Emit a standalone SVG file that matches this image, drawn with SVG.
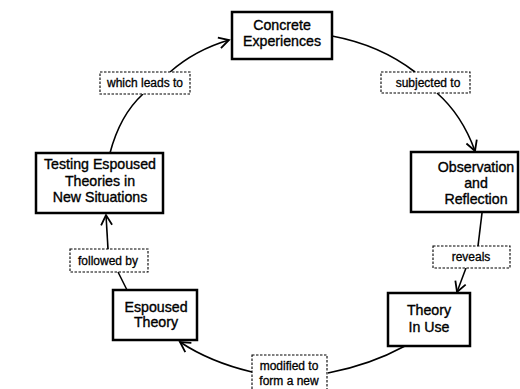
<svg xmlns="http://www.w3.org/2000/svg" width="520" height="389" viewBox="0 0 520 389">
<defs>
<style>
.node{fill:#fff;stroke:#000;stroke-width:2.5}
.lbl{fill:#fff;stroke:#000;stroke-width:1.1;stroke-dasharray:2.5 1.5}
.nt{font-family:"Liberation Sans",Arial,sans-serif;font-size:14.2px;fill:#000;stroke:#000;stroke-width:0.35;text-anchor:middle}
.lt{font-family:"Liberation Sans",Arial,sans-serif;font-size:12px;fill:#000;stroke:#000;stroke-width:0.3;text-anchor:middle}
.c{fill:none;stroke:#000;stroke-width:1.6}
</style>
<marker id="ah" markerUnits="userSpaceOnUse" markerWidth="14" markerHeight="14" refX="11" refY="6" orient="auto" viewBox="0 0 14 12">
<path d="M1,0.5 L11,6 L1,11.5" fill="none" stroke="#000" stroke-width="1.8"/>
</marker>
</defs>
<rect width="520" height="389" fill="#fff"/>
<g id="connectors">
<path class="c" d="M110,153 Q120,115 143,94"/>
<path class="c" d="M170,72 Q195,50 229,40" marker-end="url(#ah)"/>
<path class="c" d="M332,36 Q380,45 415,72"/>
<path class="c" d="M437,93 Q462,115 475,151" marker-end="url(#ah)"/>
<path class="c" d="M482,213 L478,246"/>
<path class="c" d="M466,268 L457,292" marker-end="url(#ah)"/>
<path class="c" d="M405,346 Q370,365 328,373"/>
<path class="c" d="M252,372 Q210,362 180,342" marker-end="url(#ah)"/>
<path class="c" d="M127,290 L118,272"/>
<path class="c" d="M108,249 L106,215" marker-end="url(#ah)"/>
</g>
<g id="concrete">
<rect class="node" x="232" y="12" width="100" height="47"/>
<text class="nt" x="282" y="30">Concrete</text>
<text class="nt" x="282" y="46">Experiences</text>
</g>
<g id="observation">
<rect class="node" x="411" y="152" width="107" height="60"/>
<text class="nt" x="476" y="172">Observation</text>
<text class="nt" x="476" y="188">and</text>
<text class="nt" x="476" y="204">Reflection</text>
</g>
<g id="theory-in-use">
<rect class="node" x="388" y="293" width="82" height="53"/>
<text class="nt" x="429" y="315">Theory</text>
<text class="nt" x="429" y="332">In Use</text>
</g>
<g id="espoused-theory">
<rect class="node" x="113" y="290" width="84" height="50"/>
<text class="nt" x="156" y="312">Espoused</text>
<text class="nt" x="156" y="327">Theory</text>
</g>
<g id="testing">
<rect class="node" x="36" y="153" width="127" height="60"/>
<text class="nt" x="100" y="169">Testing Espoused</text>
<text class="nt" x="100" y="186">Theories in</text>
<text class="nt" x="100" y="202">New Situations</text>
</g>
<g id="lbl-which-leads-to">
<rect class="lbl" x="100" y="72" width="90" height="22"/>
<text class="lt" x="145" y="87">which leads to</text>
</g>
<g id="lbl-subjected-to">
<rect class="lbl" x="381" y="72" width="89" height="21"/>
<text class="lt" x="428" y="87">subjected to</text>
</g>
<g id="lbl-reveals">
<rect class="lbl" x="433" y="246" width="77" height="22"/>
<text class="lt" x="471" y="261">reveals</text>
</g>
<g id="lbl-modified">
<rect class="lbl" x="252" y="355" width="75" height="40"/>
<text class="lt" x="289" y="370">modified to</text>
<text class="lt" x="289" y="385">form a new</text>
</g>
<g id="lbl-followed-by">
<rect class="lbl" x="70" y="249" width="78" height="23"/>
<text class="lt" x="108" y="265">followed by</text>
</g>
</svg>
